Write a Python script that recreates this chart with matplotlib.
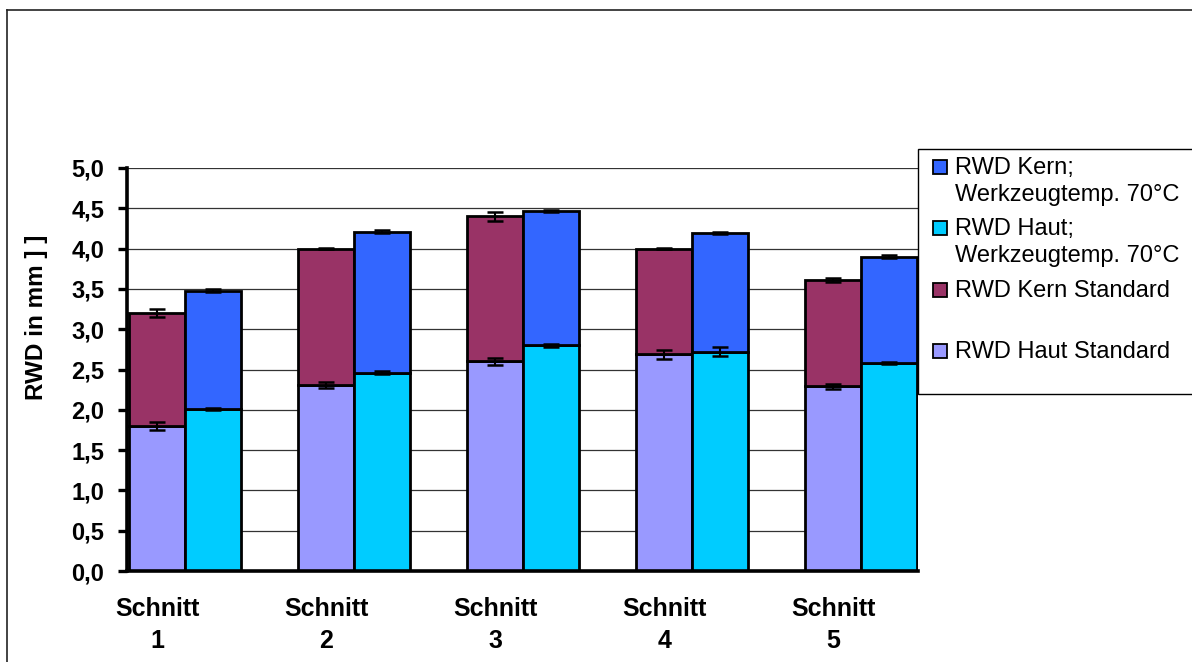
import numpy as np
import matplotlib
matplotlib.use('Agg')
import matplotlib.pyplot as plt
from matplotlib.patches import Rectangle
from matplotlib.lines import Line2D
from matplotlib.ticker import MultipleLocator, FuncFormatter

plt.rcParams['font.family'] = ['Liberation Sans', 'DejaVu Sans']

categories = ['Schnitt\n1', 'Schnitt\n2', 'Schnitt\n3', 'Schnitt\n4', 'Schnitt\n5']

haut_std = [1.80, 2.31, 2.60, 2.69, 2.29]
kern_std = [1.40, 1.69, 1.80, 1.31, 1.32]
haut_70 = [2.01, 2.46, 2.80, 2.72, 2.58]
kern_70 = [1.47, 1.75, 1.67, 1.47, 1.32]

err_haut_std = [0.05, 0.04, 0.04, 0.055, 0.03]
err_kern_std = [0.05, 0.005, 0.055, 0.01, 0.025]
err_haut_70 = [0.015, 0.02, 0.015, 0.055, 0.015]
err_kern_70 = [0.015, 0.02, 0.01, 0.015, 0.015]

legend_labels = [
    ('RWD Kern;', 'Werkzeugtemp. 70°C'),
    ('RWD Haut;', 'Werkzeugtemp. 70°C'),
    ('RWD Kern Standard', ''),
    ('RWD Haut Standard', ''),
]

c_haut_std = '#9999FF'
c_kern_std = '#993366'
c_haut_70 = '#00CCFF'
c_kern_70 = '#3366FF'

W, H = 1192, 662


def fx(px):
    return px / W


def fy(py):
    return 1 - py / H


fig = plt.figure(figsize=(W / 100, H / 100), dpi=100)
ax = fig.add_axes([fx(127), fy(571), fx(918) - fx(127), fy(168) - fy(571)])

x = np.arange(len(categories))
w = 56 / 169
x70 = x + w

bar_kw = dict(width=w, edgecolor='black', linewidth=2, zorder=2)
ax.bar(x, haut_std, color=c_haut_std, **bar_kw)
ax.bar(x, kern_std, bottom=haut_std, color=c_kern_std, **bar_kw)
ax.bar(x70, haut_70, color=c_haut_70, **bar_kw)
ax.bar(x70, kern_70, bottom=haut_70, color=c_kern_70, **bar_kw)

tot_std = np.add(haut_std, kern_std)
tot_70 = np.add(haut_70, kern_70)
eb_kw = dict(fmt='none', ecolor='black', elinewidth=1.5, capsize=5.6, capthick=1.8, zorder=3)
ax.errorbar(x, haut_std, yerr=err_haut_std, **eb_kw)
ax.errorbar(x, tot_std, yerr=err_kern_std, **eb_kw)
ax.errorbar(x70, haut_70, yerr=err_haut_70, **eb_kw)
ax.errorbar(x70, tot_70, yerr=err_kern_70, **eb_kw)

ax.set_xlim(-0.180, 4.50)
ax.set_ylim(0, 5.0)
ax.yaxis.set_major_locator(MultipleLocator(0.5))
ax.yaxis.set_major_formatter(FuncFormatter(lambda v, p: f'{v:.1f}'.replace('.', ',')))
ax.grid(axis='y', color='#333333', linewidth=0.9, zorder=0)
ax.set_axisbelow(True)

ax.set_xticks(x)
ax.set_xticklabels(categories, fontsize=18, fontweight='bold', linespacing=1.38)
ax.tick_params(axis='x', length=0, pad=19)
ax.tick_params(axis='y', length=6.5, width=2.4, direction='out', pad=10,
               labelsize=17)
for lab in ax.get_yticklabels():
    lab.set_fontweight('bold')

for s in ['top', 'right']:
    ax.spines[s].set_visible(False)
for s in ['left', 'bottom']:
    ax.spines[s].set_linewidth(2.6)
    ax.spines[s].set_color('black')

fig.text(fx(36.5), fy(317), 'RWD in mm ] ]', rotation=90, ha='center', va='center',
         fontsize=17.5, fontweight='bold')

# figure border
fig.add_artist(Line2D([fx(7.5), fx(7.5)], [-0.01, fy(10)], color='#222222', lw=1.2))
fig.add_artist(Line2D([fx(7.5), 1.01], [fy(10), fy(10)], color='#222222', lw=1.2))

# legend box
fig.add_artist(Rectangle((fx(918), fy(394)), 1.02 - fx(918), fy(149) - fy(394),
                         transform=fig.transFigure, facecolor='white',
                         edgecolor='black', linewidth=1.0, zorder=5))

leg_colors = [c_kern_70, c_haut_70, c_kern_std, c_haut_std]
baselines = [174, 235, 296.7, 358.3]
for (l1, l2), col, bl in zip(legend_labels, leg_colors, baselines):
    fig.add_artist(Rectangle((fx(933), fy(bl)), fx(14), 14 / H,
                             transform=fig.transFigure, facecolor=col,
                             edgecolor='black', linewidth=1.3, zorder=6))
    fig.text(fx(955), fy(bl), l1, ha='left', va='baseline', fontsize=17, zorder=6)
    if l2:
        fig.text(fx(955), fy(bl + 27.5), l2, ha='left', va='baseline', fontsize=17, zorder=6)

fig.savefig('out.png', dpi=100)
